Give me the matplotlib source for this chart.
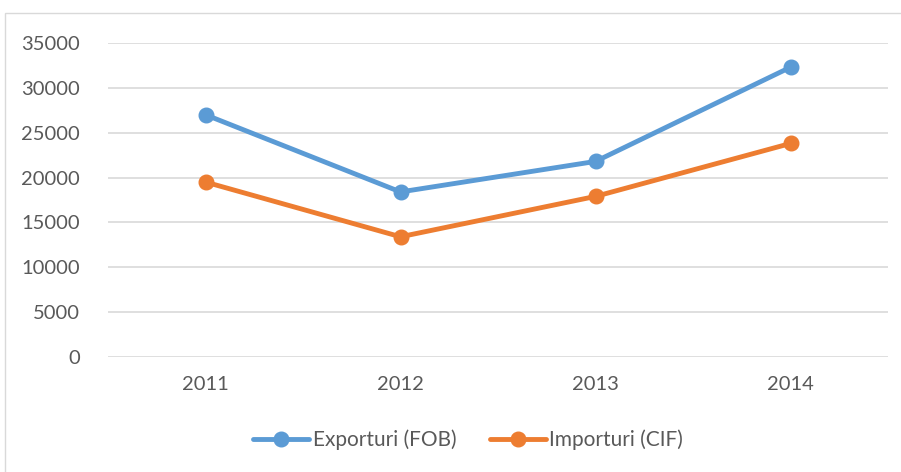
import matplotlib.pyplot as plt
from matplotlib.patches import Rectangle

years = ["2011", "2012", "2013", "2014"]
exporturi = [27000, 18400, 21800, 32300]
importuri = [19500, 13400, 17900, 23800]
y_ticks = [0, 5000, 10000, 15000, 20000, 25000, 30000, 35000]

BLUE = "#5B9BD5"
ORANGE = "#ED7D31"
TEXT = "#595959"
GRID = "#D9D9D9"

plt.rcParams["font.family"] = ["Lato", "DejaVu Sans"]

fig = plt.figure(figsize=(9.01, 4.72), dpi=100)
ax = fig.add_axes([108 / 901, 115 / 472, 780 / 901, 314 / 472])

# chart area border
fig.patches.append(Rectangle((5 / 901, -0.05), 1.0, (472 - 13) / 472 + 0.05,
                             transform=fig.transFigure, fill=False,
                             edgecolor="#D9D9D9", linewidth=1.0))

x = range(len(years))
ax.plot(x, exporturi, color=BLUE, lw=3.5, marker="o", ms=10.5,
        label="Exporturi (FOB)", solid_capstyle="round")
ax.plot(x, importuri, color=ORANGE, lw=3.5, marker="o", ms=10.5,
        label="Importuri (CIF)", solid_capstyle="round")

ax.set_xlim(-0.5, len(years) - 0.5)
ax.set_ylim(0, 35000)
ax.set_xticks(list(x))
ax.set_xticklabels(years)
ax.set_yticks(y_ticks)
ax.set_yticklabels([str(v) for v in y_ticks])

ax.grid(axis="y", color=GRID, lw=1.2)
ax.set_axisbelow(True)
for s in ax.spines.values():
    s.set_visible(False)
ax.tick_params(length=0, labelsize=14.5, colors=TEXT)
ax.tick_params(axis="x", pad=14)
ax.tick_params(axis="y", pad=20)

leg = ax.legend(loc="center", bbox_to_anchor=(468 / 901, 1 - 440 / 472),
                bbox_transform=fig.transFigure, ncol=2, frameon=False,
                fontsize=15, handlelength=2.7, handletextpad=0.15,
                columnspacing=1.6)
for t in leg.get_texts():
    t.set_color(TEXT)

fig.savefig("out.png", dpi=100)
